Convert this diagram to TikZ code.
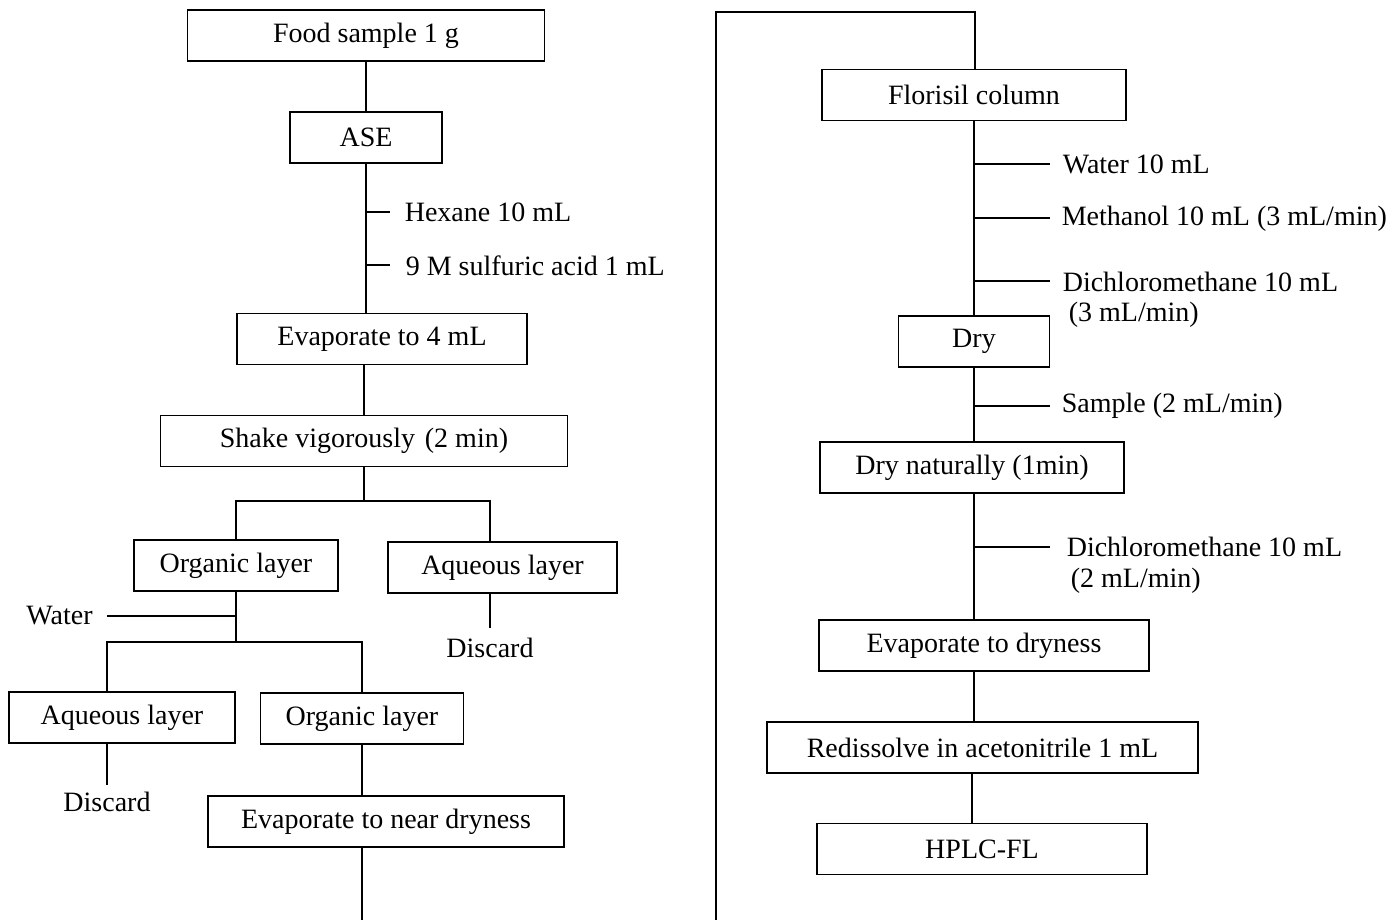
\documentclass[tikz,border=0pt]{standalone}
\usepackage{fontspec}
\setmainfont{Liberation Serif}
\begin{document}
\begin{tikzpicture}[x=1pt, y=-1pt, line width=1.6pt,
    font=\fontsize{28}{33}\selectfont,
    stepbox/.style={draw, minimum height=51pt, inner sep=0pt},
    txt/.style={inner sep=0pt, anchor=west}]
    \useasboundingbox (0,0) rectangle (1395,920);
    % left column
    \node (fs)[stepbox, minimum width=357pt] at (366, 35.5) {Food sample 1 g} ;
    \node (ase)[stepbox, minimum width=152pt] at (366, 137.5) {ASE} ;
    \node (ev4)[stepbox, minimum width=290pt] at (382, 339) {Evaporate to 4 mL} ;
    \node (shk)[stepbox, minimum width=407pt] at (364, 441) {Shake vigorously\hspace{0.35em}(2 min)\hspace{1.1em}} ;
    \node (org1)[stepbox, minimum width=204pt] at (236, 565.5) {Organic layer} ;
    \node (aq1)[stepbox, minimum width=229pt] at (502.5, 567.5) {Aqueous layer} ;
    \node (aq2)[stepbox, minimum width=226pt] at (122, 717.5) {Aqueous layer} ;
    \node (org2)[stepbox, minimum width=203pt] at (362, 718.5) {Organic layer} ;
    \node (evn)[stepbox, minimum width=356pt] at (386, 821.5) {Evaporate to near dryness} ;
    \node (dis1) at (490, 648) {Discard} ;
    \node (dis2) at (107, 802) {Discard} ;
    \node (wat)[inner xsep=14pt] at (59.5, 616) {Water} ;
    \node (hex)[txt] at (404, 212) {Hexane 10 mL} ;
    \node (sul)[txt] at (405, 266) {9 M sulfuric acid 1 mL} ;
    % right column
    \node (flo)[stepbox, minimum width=304pt] at (974, 95) {Florisil column} ;
    \node (dry)[stepbox, minimum width=151pt] at (974, 341.5) {Dry} ;
    \node (drn)[stepbox, minimum width=304pt] at (972, 467.5) {Dry naturally (1min)} ;
    \node (evd)[stepbox, minimum width=330pt] at (984, 645.5) {Evaporate to dryness} ;
    \node (red)[stepbox, minimum width=431pt] at (982.5, 747.5) {Redissolve in acetonitrile 1 mL} ;
    \node (hplc)[stepbox, minimum width=330pt] at (982, 849) {HPLC-FL} ;
    \node (w10)[txt] at (1062, 164) {Water 10 mL} ;
    \node (me10)[txt] at (1061, 219) {Methanol 10 mL (3 mL/min)} ;
    \node (dc1)[txt] at (1062, 282) {Dichloromethane 10 mL} ;
    \node (dc1b)[txt] at (1068, 315) {(3 mL/min)} ;
    \node (smp)[txt] at (1061, 406) {Sample (2 mL/min)} ;
    \node (dc2)[txt] at (1066, 547) {Dichloromethane 10 mL} ;
    \node (dc2b)[txt] at (1070, 581) {(2 mL/min)} ;
    % free ends
    \coordinate (j1) at (364, 501) ;
    \coordinate (j2) at (236, 642) ;
    \coordinate (a1) at (490, 628) ;
    \coordinate (a2) at (107, 785) ;
    \coordinate (lb) at (362, 920) ;
    \coordinate (rb) at (716, 920) ;
    \coordinate (rt) at (975, 12) ;
    \coordinate (k1) at (390, 212) ;
    \coordinate (k2) at (390, 265) ;
    \coordinate (k3) at (1050, 164) ;
    \coordinate (k4) at (1050, 218) ;
    \coordinate (k5) at (1050, 281) ;
    \coordinate (k6) at (1050, 406) ;
    \coordinate (k7) at (1050, 547) ;
	\draw (fs) -- (ase) ;
	\draw (ase.south) -- (ase.south |- ev4.north) ;
	\draw (ev4.south -| shk) -- (shk) ;
	\draw (shk) -- (j1) ;
	\draw (org1.north -| j2) |- (j1) -| (aq1.north -| a1) ;
	\draw (aq1.south -| a1) -- (a1) ;
	\draw (org1.south -| j2) -- (j2) ;
	\draw (wat.east) -- (wat.east -| j2) ;
	\draw (aq2.north -| a2) |- (j2) -| (org2.north) ;
	\draw (aq2.south -| a2) -- (a2) ;
	\draw (org2) -- (org2 |- evn.north) ;
	\draw (evn.south -| lb) -- (lb) ;
	\draw (k1 -| ase) -- (k1) ;
	\draw (k2 -| ase) -- (k2) ;
	\draw (rb) |- (rt) -- (rt |- flo.north) ;
	\draw (flo.south -| dry) -- (dry) ;
	\draw (dry) -- (dry |- drn.north) ;
	\draw (drn.south -| dry) -- (evd.north -| dry) ;
	\draw (evd.south -| dry) -- (red.north -| dry) ;
	\draw (red.south -| drn) -- (hplc.north -| drn) ;
	\draw (k3 -| dry) -- (k3) ;
	\draw (k4 -| dry) -- (k4) ;
	\draw (k5 -| dry) -- (k5) ;
	\draw (k6 -| dry) -- (k6) ;
	\draw (k7 -| dry) -- (k7) ;
\end{tikzpicture}
\end{document}
